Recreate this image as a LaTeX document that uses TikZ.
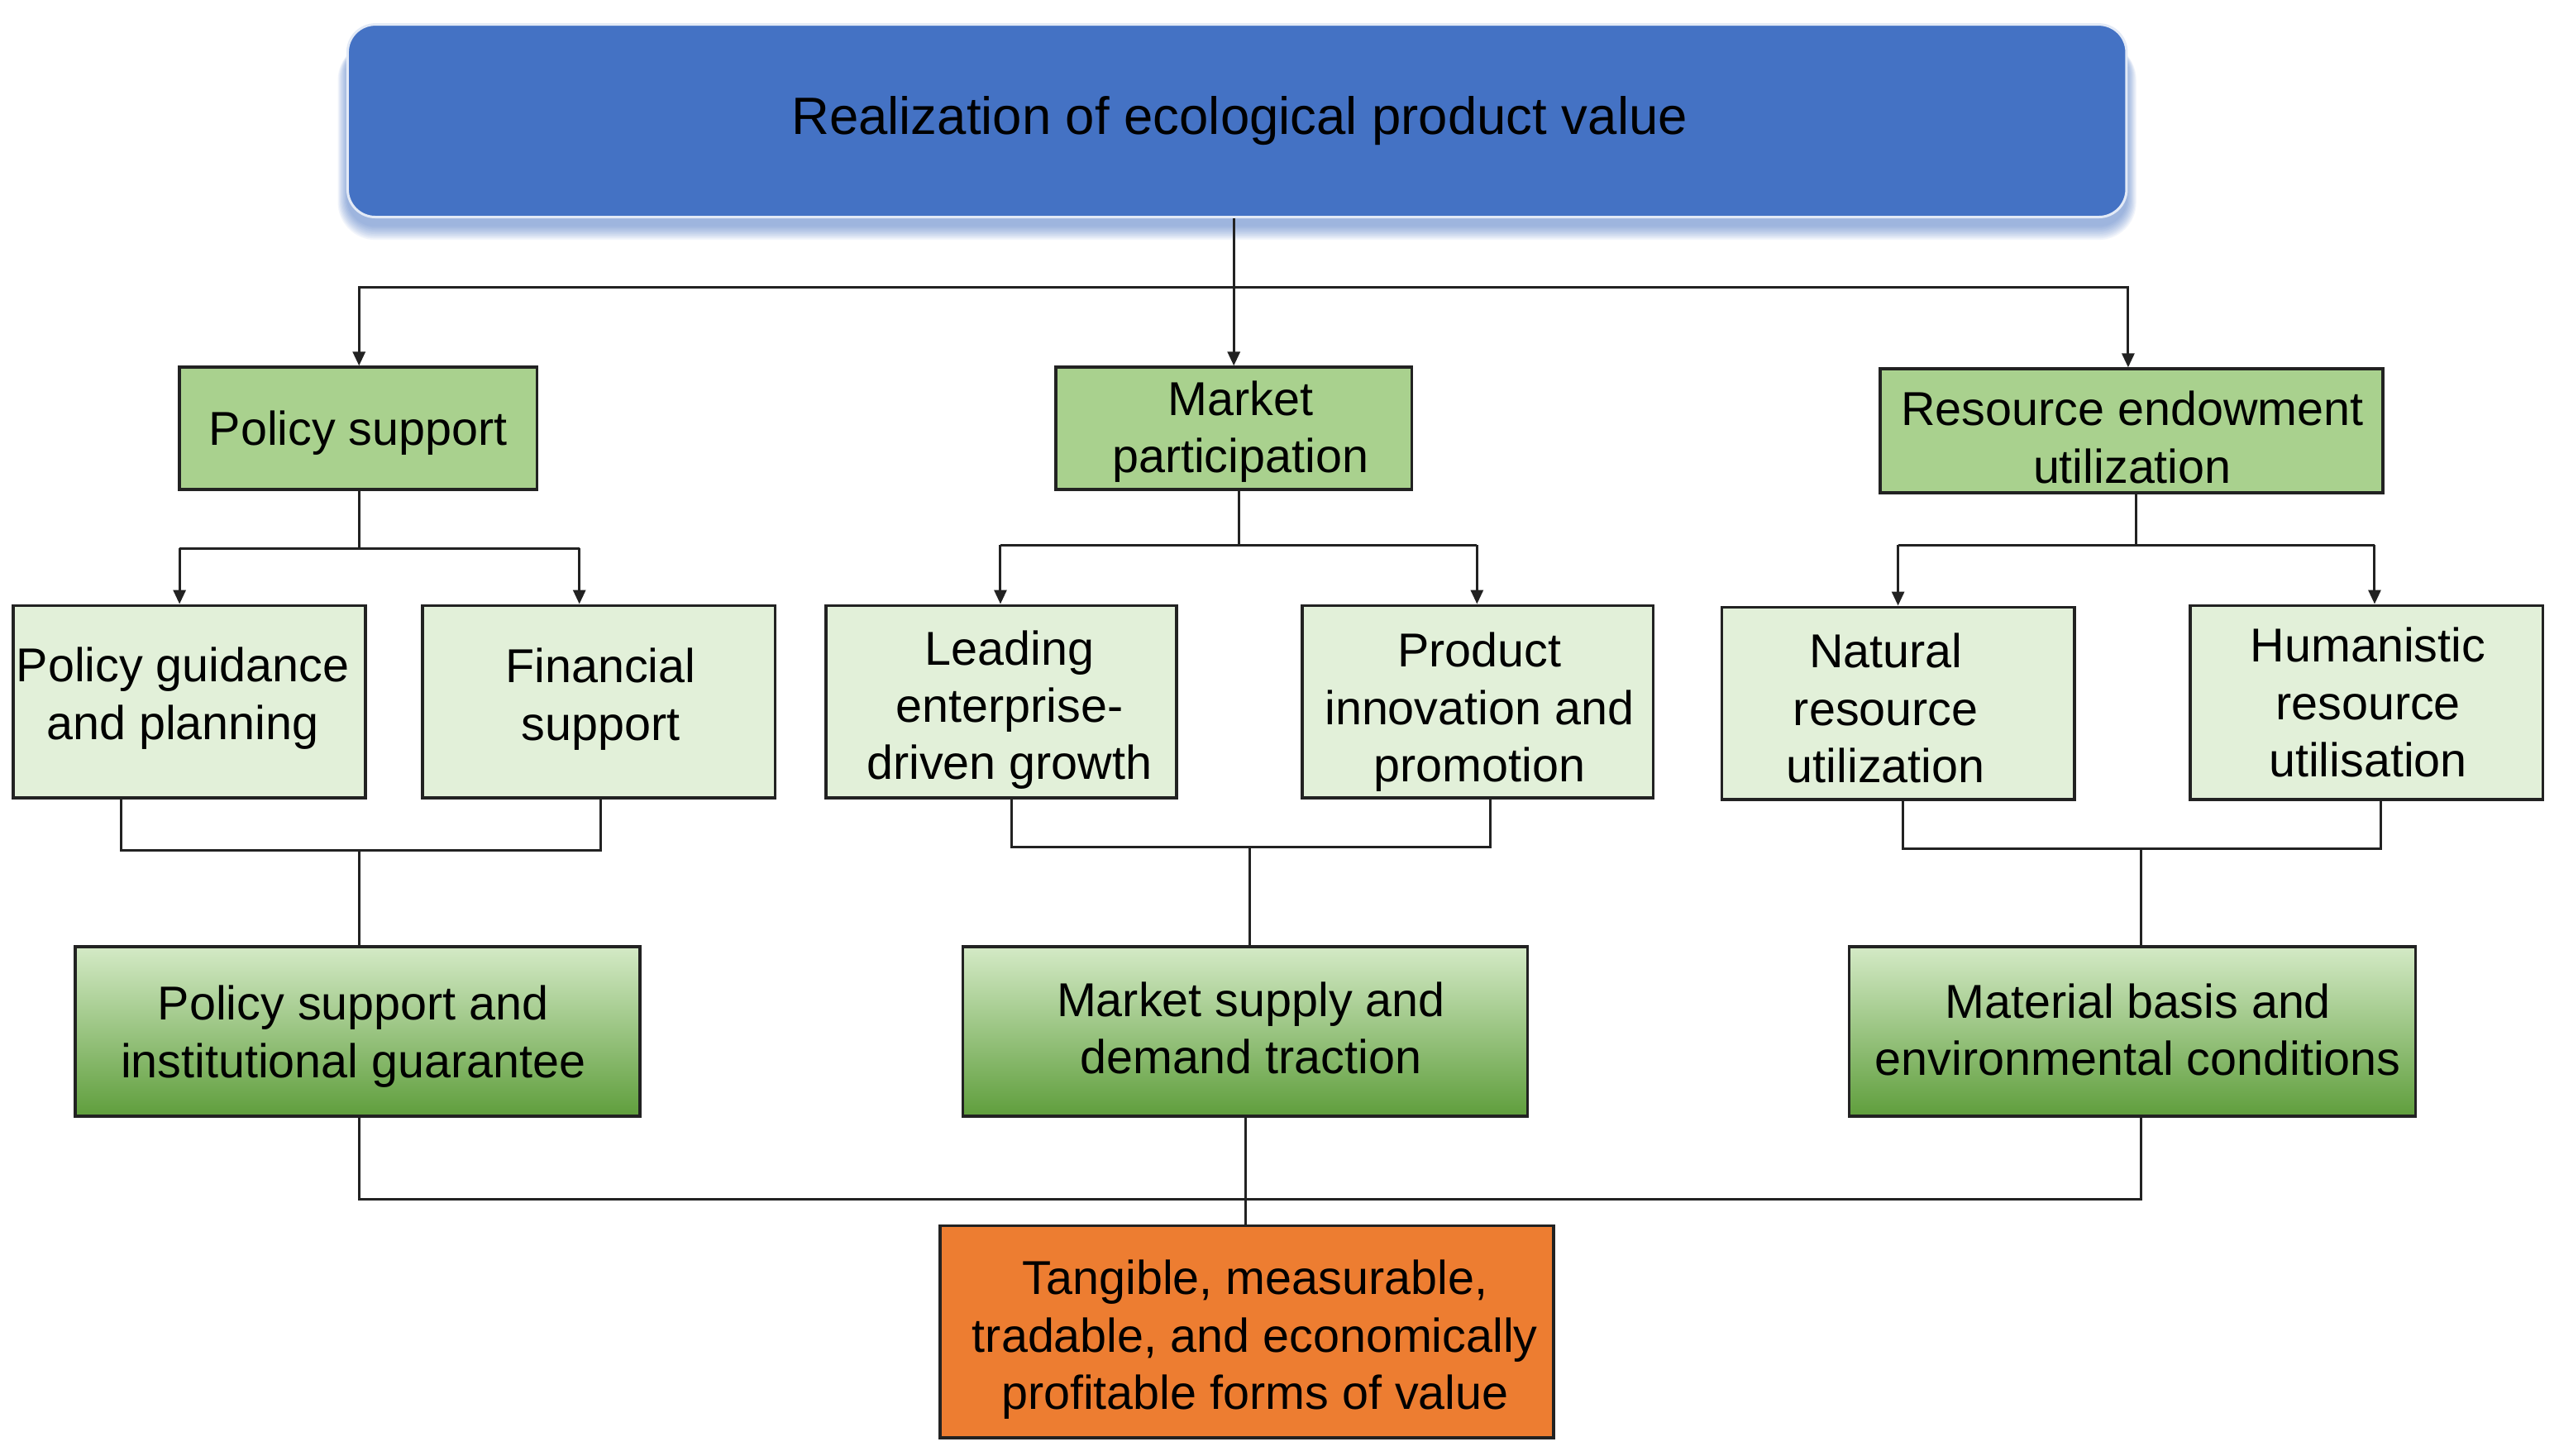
\documentclass[tikz,border=0pt]{standalone}
\usepackage{fontspec}
\setmainfont{Liberation Sans}
\usetikzlibrary{arrows.meta,calc}
\definecolor{topblue}{HTML}{4472C4}
\definecolor{lvtwo}{HTML}{A9D18E}
\definecolor{lvthree}{HTML}{E2F0D9}
\definecolor{gtop}{HTML}{D4EAC6}
\definecolor{gmid}{HTML}{7BBA4D}
\definecolor{gbot}{HTML}{5F9E3C}
\definecolor{orng}{HTML}{ED7D31}
\definecolor{edge}{HTML}{222222}
\def\ou{1.974pt}
\begin{document}
\begin{tikzpicture}[x=1.974pt,y=-1.974pt,
  box/.style={draw=edge, line width=3.5pt, inner sep=0pt},
  txt/.style={align=center, inner sep=0pt, font=\fontsize{57.5}{69.5}\selectfont, text=black},
  lvtwobox/.style={box, fill=lvtwo},
  lvthreebox/.style={box, fill=lvthree, minimum width=216*\ou, minimum height=118*\ou},
  gradbox/.style={box, top color=gtop, middle color=gmid, bottom color=gbot,
    minimum width=346*\ou, minimum height=104*\ou},
  conn/.style={draw=edge, line width=3pt},
  arr/.style={conn, -{Triangle[length=17pt,width=15pt]}},
]
\useasboundingbox (0,0) rectangle (1568,892);
\fill[white] (0,0) rectangle (1568,892);

% shadow of title box
\foreach \i in {1,...,10}{
  \fill[topblue, opacity=0.065, rounded corners=(17+\i*0.6)*\ou]
    (213-\i*0.6,26) rectangle (1303+\i*0.6,138+\i*0.9);
}
\node[draw=white!85!topblue, line width=3pt, fill=topblue, rounded corners=17*\ou,
  minimum width=1090*\ou, minimum height=118*\ou, inner sep=0pt] (top) at (758,74) {};
\node[txt, font=\fontsize{63.5}{75}\selectfont] (toptxt) at ($(top)+(1.5,0)$)
  {Realization of ecological product value};

% level 2
\node[lvtwobox, minimum width=219*\ou, minimum height=75*\ou] (ps) at (219.5,262.5) {};
\node[txt] (pst) at ($(ps)+(0,3)$) {Policy support};
\node[lvtwobox, minimum width=218*\ou, minimum height=75*\ou] (mp) at (756,262.5) {};
\node[txt] (mpt) at ($(mp)+(4,2)$) {Market\\participation};
\node[lvtwobox, minimum width=308*\ou, minimum height=76*\ou] (re) at (1306,264) {};
\node[txt] (ret) at ($(re)+(0.5,4)$) {Resource endowment\\utilization};

% level 3
\node[lvthreebox] (pg) at (116,430) {};
\node[txt] (pgt) at ($(pg)+(-4,-2)$) {Policy guidance\\and planning};
\node[lvthreebox] (fs) at (367,430) {};
\node[txt] (fst) at ($(fs)+(1,-1.5)$) {Financial\\support};
\node[lvthreebox, minimum width=215*\ou] (le) at (613.5,430) {};
\node[txt] (let) at ($(le)+(5,5)$) {Leading\\enterprise-\\driven growth};
\node[lvthreebox, minimum width=215*\ou] (pi) at (905.5,430) {};
\node[txt] (pit) at ($(pi)+(1,6.5)$) {Product\\innovation and\\promotion};
\node[lvthreebox] (nr) at (1163,431) {};
\node[txt] (nrt) at ($(nr)+(-7.5,3)$) {Natural\\resource\\utilization};
\node[lvthreebox, minimum height=119*\ou] (hr) at (1450,430.5) {};
\node[txt] (hrt) at ($(hr)+(1,0)$) {Humanistic\\resource\\utilisation};

% level 4
\node[gradbox] (ga) at (219,632) {};
\node[txt] (gat) at ($(ga)+(-2.5,3)$) {Policy support and\\institutional guarantee};
\node[gradbox] (gb) at (763,632) {};
\node[txt] (gbt) at ($(gb)+(3.5,-2)$) {Market supply and\\demand traction};
\node[gradbox, minimum width=347*\ou] (gc) at (1306.5,632) {};
\node[txt] (gct) at ($(gc)+(3.5,-1)$) {Material basis and\\environmental conditions};

% result
\node[box, fill=orng, minimum width=376*\ou, minimum height=130*\ou] (res) at (764,816) {};
\node[txt] (rest) at ($(res)+(5,5)$)
  {Tangible, measurable,\\tradable, and economically\\profitable forms of value};

% top bus
\coordinate (bus) at (756,176);
\draw[conn] (top.south -| bus) -- (bus);
\draw[conn] (220,176) -- (1304,176);
\draw[arr] (ps.north -| 220,0) ++(0,-49) -- (ps.north -| 220,0);
\draw[arr] (bus) -- (mp.north);
\draw[arr] (re.north -| 1304,0) ++(0,-50) -- (re.north -| 1304,0);

% policy branch
\draw[conn] (ps.south -| 220,0) -- (220,336);
\draw[conn] (110,336) -- (355,336);
\draw[arr] (110,336) -- (pg.north -| 110,0);
\draw[arr] (355,336) -- (fs.north -| 355,0);

% market branch
\draw[conn] (mp.south -| 759,0) -- (759,334);
\draw[conn] (613,334) -- (905,334);
\draw[arr] (613,334) -- (le.north -| 613,0);
\draw[arr] (905,334) -- (pi.north -| 905,0);

% resource branch
\draw[conn] (re.south -| 1309,0) -- (1309,334);
\draw[conn] (1163,334) -- (1455,334);
\draw[arr] (1163,334) -- (nr.north -| 1163,0);
\draw[arr] (1455,334) -- (hr.north -| 1455,0);

% merging to level 4
\draw[conn] (pg.south -| 74,0) |- (368,521) -- (fs.south -| 368,0);
\draw[conn] (220,521) -- (ga.north -| 220,0);
\draw[conn] (le.south -| 620,0) |- (913,519) -- (pi.south -| 913,0);
\draw[conn] (766,519) -- (gb.north -| 766,0);
\draw[conn] (nr.south -| 1166,0) |- (1459,520) -- (hr.south -| 1459,0);
\draw[conn] (1312,520) -- (gc.north -| 1312,0);

% merging to result
\draw[conn] (ga.south -| 220,0) |- (1312,735) -- (gc.south -| 1312,0);
\draw[conn] (gb.south -| 763,0) -- (res.north -| 763,0);
\end{tikzpicture}
\end{document}
